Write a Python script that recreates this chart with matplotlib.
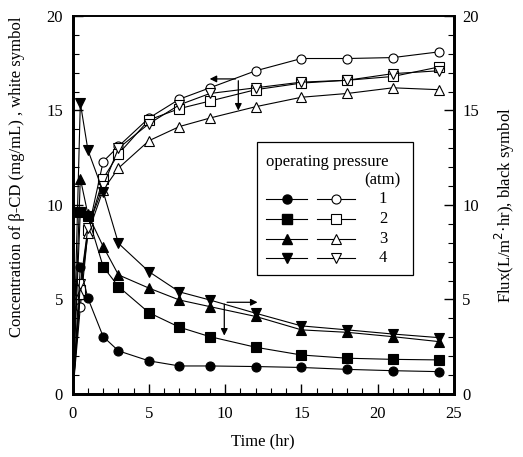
import matplotlib
matplotlib.use("Agg")
import matplotlib.pyplot as plt
from matplotlib.ticker import MultipleLocator
from matplotlib.patches import Rectangle
from matplotlib.lines import Line2D

plt.rcParams['font.family'] = ['Liberation Serif', 'DejaVu Serif']

time = [0, 0.5, 1, 2, 3, 5, 7, 9, 12, 15, 18, 21, 24]

# concentration (white symbols)
conc_1 = [0, 4.6, 8.6, 12.3, 13.1, 14.6, 15.6, 16.2, 17.1, 17.75, 17.75, 17.8, 18.1]
conc_2 = [0, 5.5, 8.7, 11.4, 12.7, 14.5, 15.1, 15.5, 16.1, 16.45, 16.6, 16.8, 17.3]
conc_3 = [0, 5.3, 8.5, 10.8, 11.95, 13.4, 14.15, 14.6, 15.2, 15.7, 15.9, 16.2, 16.1]
conc_4 = [0, 5.8, 8.8, 11.0, 13.0, 14.3, 15.3, 15.9, 16.2, 16.5, 16.6, 16.95, 17.1]

# flux (black symbols)
flux_1 = [0, 6.7, 5.06, 3.03, 2.28, 1.75, 1.48, 1.48, 1.45, 1.4, 1.3, 1.23, 1.18]
flux_2 = [0, 9.65, 9.4, 6.73, 5.68, 4.3, 3.53, 3.03, 2.47, 2.06, 1.89, 1.83, 1.8]
flux_3 = [0, 11.4, 9.5, 7.8, 6.3, 5.6, 4.97, 4.62, 4.1, 3.39, 3.26, 3.03, 2.77]
flux_4 = [0, 15.4, 12.9, 10.7, 7.97, 6.47, 5.4, 4.97, 4.27, 3.6, 3.39, 3.17, 2.98]

pressures = ['1', '2', '3', '4']
markers = ['o', 's', '^', 'v']
conc = [conc_1, conc_2, conc_3, conc_4]
flux = [flux_1, flux_2, flux_3, flux_4]

fig = plt.figure(figsize=(5.23, 4.57), dpi=100)
ax = fig.add_axes([0.139, 0.138, 0.729, 0.827])

ms = 6.5
for m, c in zip(markers, conc):
    ax.plot(time, c, color='black', lw=0.8, marker=m, ms=ms, mfc='white',
            mec='black', mew=0.8, markevery=list(range(1, len(time))))
for m, f in zip(markers, flux):
    ax.plot(time, f, color='black', lw=0.8, marker=m, ms=ms, mfc='black',
            mec='black', mew=0.8, markevery=list(range(1, len(time))))

ax.set_xlim(0, 25)
ax.set_ylim(0, 20)
ax.xaxis.set_major_locator(MultipleLocator(5))
ax.xaxis.set_minor_locator(MultipleLocator(1))
ax.yaxis.set_major_locator(MultipleLocator(5))
ax.yaxis.set_minor_locator(MultipleLocator(1))
ax.tick_params(axis='x', which='both', direction='in', top=False, labelsize=12, pad=9)
ax.tick_params(axis='y', which='both', direction='in', labelsize=12, pad=7)
ax.tick_params(which='major', length=7, width=1)
ax.tick_params(which='minor', length=4, width=0.8)

ax2 = ax.twinx()
ax2.set_ylim(0, 20)
ax2.yaxis.set_major_locator(MultipleLocator(5))
ax2.yaxis.set_minor_locator(MultipleLocator(1))
ax2.tick_params(axis='y', which='both', direction='in', labelsize=12, pad=6)
ax2.tick_params(which='major', length=7, width=1)
ax2.tick_params(which='minor', length=4, width=0.8)

for a in (ax, ax2):
    for side in ['left', 'bottom', 'right']:
        a.spines[side].set_linewidth(2.0)
    a.spines['top'].set_linewidth(1.2)

# arrows
ax.annotate('', xy=(8.8, 16.67), xytext=(10.86, 16.67),
            arrowprops=dict(arrowstyle='-|>', color='black', lw=0.9,
                            mutation_scale=10))
ax.annotate('', xy=(10.86, 14.85), xytext=(10.86, 16.72),
            arrowprops=dict(arrowstyle='-|>', color='black', lw=0.9,
                            mutation_scale=10))
ax.annotate('', xy=(12.3, 4.85), xytext=(9.94, 4.85),
            arrowprops=dict(arrowstyle='-|>', color='black', lw=0.9,
                            mutation_scale=10))
ax.annotate('', xy=(9.94, 2.94), xytext=(9.94, 4.9),
            arrowprops=dict(arrowstyle='-|>', color='black', lw=0.9,
                            mutation_scale=10))

# legend (manual)
T = ax.transAxes
ax.add_patch(Rectangle((0.484, 0.315), 0.409, 0.352, transform=T,
                       facecolor='white', edgecolor='black', lw=0.9, zorder=5))
ax.text(0.507, 0.614, 'operating pressure', transform=T, fontsize=12,
        ha='left', va='center', zorder=6)
ax.text(0.861, 0.566, '(atm)', transform=T, fontsize=12,
        ha='right', va='center', zorder=6)
row_y = [0.516, 0.463, 0.410, 0.360]
for yy, m, p in zip(row_y, markers, pressures):
    ax.add_line(Line2D([0.507, 0.615], [yy, yy], transform=T, color='black',
                       lw=0.8, zorder=6))
    ax.add_line(Line2D([0.562], [yy], transform=T, marker=m, ms=ms,
                       mfc='black', mec='black', lw=0, zorder=7))
    ax.add_line(Line2D([0.641, 0.741], [yy, yy], transform=T, color='black',
                       lw=0.8, zorder=6))
    ax.add_line(Line2D([0.691], [yy], transform=T, marker=m, ms=ms,
                       mfc='white', mec='black', mew=0.8, lw=0, zorder=7))
    ax.text(0.814, yy, p, transform=T, fontsize=12, ha='center', va='center',
            zorder=7)

fig.text(17 / 523, 1 - 177 / 457,
         'Concentration of β-CD (mg/mL) , white symbol',
         rotation=90, ha='center', va='center', fontsize=12)
fig.text(505 / 523, 1 - 205 / 457,
         'Flux(L/m$^2$·hr), black symbol',
         rotation=90, ha='center', va='center', fontsize=12)
fig.text(263 / 523, 1 - 441 / 457, 'Time (hr)', ha='center', va='center',
         fontsize=12)

fig.savefig('out.png', dpi=100)
